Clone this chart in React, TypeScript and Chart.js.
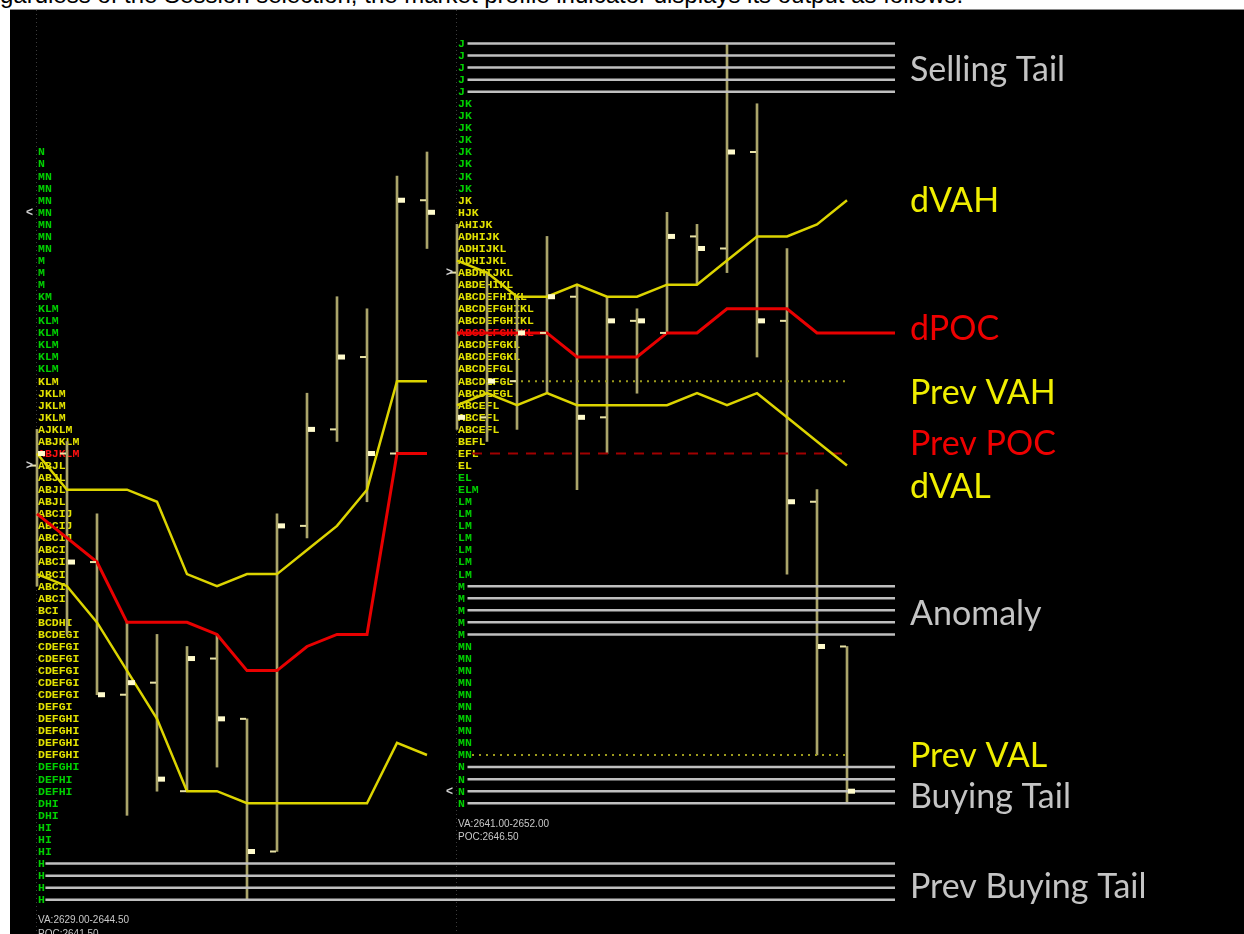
import React, { useEffect, useRef } from 'react';
import { Chart, registerables } from 'chart.js';

Chart.register(...registerables);

// ---------- data ----------
const PERIODS = ['A', 'B', 'C', 'D', 'E', 'F', 'G', 'H', 'I', 'J', 'K', 'L', 'M', 'N'];
const SESSION_START = [0, 14];
const PRICE_STEP = 0.5;

const LEFT_PROFILE = [
  'N', 'N', 'MN', 'MN', 'MN', 'MN', 'MN', 'MN', 'MN', 'M', 'M', 'M', 'KM',
  'KLM', 'KLM', 'KLM', 'KLM', 'KLM', 'KLM', 'KLM', 'JKLM', 'JKLM', 'JKLM',
  'AJKLM', 'ABJKLM', 'ABJKLM', 'ABJL', 'ABJL', 'ABJL', 'ABJL', 'ABCIJ', 'ABCIJ', 'ABCIJ',
  'ABCI', 'ABCI', 'ABCI', 'ABCI', 'ABCI', 'BCI', 'BCDHI', 'BCDEGI',
  'CDEFGI', 'CDEFGI', 'CDEFGI', 'CDEFGI', 'CDEFGI', 'DEFGI',
  'DEFGHI', 'DEFGHI', 'DEFGHI', 'DEFGHI', 'DEFGHI', 'DEFHI', 'DEFHI', 'DHI', 'DHI',
  'HI', 'HI', 'HI', 'H', 'H', 'H', 'H',
];
const LEFT_TOP = 2654.0;
const LEFT_VA = [2629.0, 2644.5];
const LEFT_POC = 2641.5;

const RIGHT_PROFILE = [
  'J', 'J', 'J', 'J', 'J', 'JK', 'JK', 'JK', 'JK', 'JK', 'JK', 'JK', 'JK', 'JK',
  'HJK', 'AHIJK', 'ADHIJK', 'ADHIJKL', 'ADHIJKL', 'ABDHIJKL', 'ABDEHIKL', 'ABCDEFHIKL',
  'ABCDEFGHIKL', 'ABCDEFGHIKL', 'ABCDEFGHIKL', 'ABCDEFGKL', 'ABCDEFGKL',
  'ABCDEFGL', 'ABCDEFGL', 'ABCDEFGL', 'ABCEFL', 'ABCEFL', 'ABCEFL', 'BEFL', 'EFL',
  'EL', 'EL', 'ELM', 'LM', 'LM', 'LM', 'LM', 'LM', 'LM', 'LM',
  'M', 'M', 'M', 'M', 'M', 'MN', 'MN', 'MN', 'MN', 'MN', 'MN', 'MN', 'MN', 'MN', 'MN',
  'N', 'N', 'N', 'N',
];
const RIGHT_TOP = 2658.5;
const RIGHT_VA = [2641.0, 2652.0];
const RIGHT_POC = 2646.5;

const LEFT_HIGH = [2642.5, 2642, 2639, 2634.5, 2634, 2633.5, 2634, 2630.5, 2639, 2644, 2648, 2647.5, 2653, 2654];
const LEFT_LOW = [2636, 2634, 2631.5, 2626.5, 2627.5, 2627.5, 2628.5, 2623, 2625, 2638, 2642, 2639.5, 2641.5, 2650];
const LEFT_OPEN = [2641, 2641.5, 2637, 2631.5, 2632, 2627.5, 2633, 2630.5, 2625, 2638.5, 2642.5, 2645.5, 2641.5, 2652];
const LEFT_CLOSE = [2641.5, 2637, 2631.5, 2632, 2628, 2633, 2630.5, 2625, 2638.5, 2642.5, 2645.5, 2641.5, 2652, 2651.5];

const RIGHT_HIGH = [2651, 2649, 2648, 2650.5, 2648.5, 2648, 2647.5, 2651.5, 2651, 2658.5, 2656, 2650, 2640, 2633.5];
const RIGHT_LOW = [2642.5, 2642, 2642.5, 2644, 2640, 2641.5, 2644, 2646.5, 2648.5, 2649, 2645.5, 2636.5, 2629, 2627];
const RIGHT_OPEN = [2649, 2643, 2644.5, 2646.5, 2648, 2643, 2647, 2646.5, 2650.5, 2650, 2654, 2647, 2639.5, 2633.5];
const RIGHT_CLOSE = [2643, 2644.5, 2646.5, 2648, 2643, 2647, 2647, 2650.5, 2650, 2654, 2647, 2639.5, 2633.5, 2627.5];

const LEFT_DVAH = [2641.5, 2640, 2640, 2640, 2639.5, 2636.5, 2636, 2636.5, 2636.5, 2637.5, 2638.5, 2640, 2644.5, 2644.5];
const LEFT_DPOC = [2639, 2638, 2637, 2634.5, 2634.5, 2634.5, 2634, 2632.5, 2632.5, 2633.5, 2634, 2634, 2641.5, 2641.5];
const LEFT_DVAL = [2636.5, 2636, 2634.5, 2632.5, 2630.5, 2627.5, 2627.5, 2627, 2627, 2627, 2627, 2627, 2629.5, 2629];

const RIGHT_DVAH = [2649.5, 2649, 2648, 2648, 2648.5, 2648, 2648, 2648.5, 2648.5, 2649.5, 2650.5, 2650.5, 2651, 2652];
const RIGHT_DPOC = [2646.5, 2646.5, 2646.5, 2646.5, 2645.5, 2645.5, 2645.5, 2646.5, 2646.5, 2647.5, 2647.5, 2647.5, 2646.5, 2646.5];
const RIGHT_DVAL = [2643.5, 2644, 2643.5, 2644, 2643.5, 2643.5, 2643.5, 2643.5, 2644, 2643.5, 2644, 2643, 2642, 2641];

const SELLING_TAIL = [2658.5, 2658, 2657.5, 2657, 2656.5];
const ANOMALY = [2636, 2635.5, 2635, 2634.5, 2634];
const BUYING_TAIL = [2628.5, 2628, 2627.5, 2627];
const PREV_BUYING_TAIL = [2624.5, 2624, 2623.5, 2623];
const PREV_VAH = 2644.5;
const PREV_POC = 2641.5;
const PREV_VAL = 2629.0;

const LABELS = ['Selling Tail', 'dVAH', 'dPOC', 'Prev VAH', 'Prev POC', 'dVAL', 'Anomaly', 'Prev VAL', 'Buying Tail', 'Prev Buying Tail'];
const LABEL_PRICES = [2657.45, 2652.0, 2646.7, 2644.05, 2641.95, 2640.15, 2634.9, 2629.0, 2627.3, 2623.55];

const TOP_TEXT = 'gardless of the Session selection, the market profile indicator displays its output as follows:';

// ---------- styles / layout ----------
const YELLOW_LINE = '#dcd400';
const RED_LINE = '#e80000';
const GRAY_LINE = '#bfbfbf';
const BAR_COLOR = '#aaa46a';
const TXT_YELLOW = '#e2e200';
const TXT_GREEN = '#00d000';
const TXT_RED = '#ff1010';
const LABEL_COLORS = ['#c4c4c4', '#f0ee00', '#ee0000', '#f0ee00', '#ee0000', '#f0ee00', '#c4c4c4', '#f0ee00', '#c4c4c4', '#c4c4c4'];

const X_MIN = -0.9;
const X_MAX = 40.2333;
const Y_MIN = 2621.58;
const Y_MAX = 2659.887;
const LABEL_X = 29.1;
const REF_END = 28.6;
const LEFT_REF_START = 0.28;
const RIGHT_REF_START = 14.35;
const PREV_START = 14.5;
const PREV_END = 27.0;
const MARKER_OFFSET = -0.25;

const series = (start: number, values: number[]) => values.map((v, i) => ({ x: start + i, y: v }));

const hline = (y: number, x0: number, x1: number, color: string, width: number, dash: number[] = []) => ({
  type: 'line' as const,
  data: [{ x: x0, y }, { x: x1, y }],
  borderColor: color,
  borderWidth: width,
  borderDash: dash,
  pointRadius: 0,
  fill: false,
  order: 2,
});

const pathLine = (data: { x: number; y: number }[], color: string, width: number) => ({
  type: 'line' as const,
  data,
  borderColor: color,
  borderWidth: width,
  pointRadius: 0,
  fill: false,
  tension: 0,
  order: 1,
});

const sessions = [
  { start: SESSION_START[0], profile: LEFT_PROFILE, top: LEFT_TOP, va: LEFT_VA, poc: LEFT_POC, open: LEFT_OPEN, close: LEFT_CLOSE },
  { start: SESSION_START[1], profile: RIGHT_PROFILE, top: RIGHT_TOP, va: RIGHT_VA, poc: RIGHT_POC, open: RIGHT_OPEN, close: RIGHT_CLOSE },
];

const overlayPlugin = {
  id: 'profileOverlay',
  beforeDatasetsDraw(chart: any) {
    const { ctx } = chart;
    const xs = chart.scales.x;
    const ys = chart.scales.y;
    ctx.save();
    // session separators
    ctx.strokeStyle = '#3c3c3c';
    ctx.lineWidth = 1;
    ctx.setLineDash([1, 3]);
    sessions.forEach((s) => {
      const x = Math.round(xs.getPixelForValue(s.start)) - 0.5;
      ctx.beginPath();
      ctx.moveTo(x, 0);
      ctx.lineTo(x, chart.height);
      ctx.stroke();
    });
    ctx.setLineDash([]);
    // profile letters
    ctx.font = 'bold 11.5px "Liberation Mono", "DejaVu Sans Mono", monospace';
    ctx.textBaseline = 'middle';
    ctx.textAlign = 'left';
    sessions.forEach((s) => {
      const x0 = xs.getPixelForValue(s.start) + 1;
      s.profile.forEach((txt, r) => {
        const p = s.top - r * PRICE_STEP;
        ctx.fillStyle = p === s.poc ? TXT_RED : p >= s.va[0] && p <= s.va[1] ? TXT_YELLOW : TXT_GREEN;
        ctx.fillText(txt, x0, ys.getPixelForValue(p) + 0.5);
      });
    });
    ctx.restore();
  },
  afterDatasetsDraw(chart: any) {
    const { ctx } = chart;
    const xs = chart.scales.x;
    const ys = chart.scales.y;
    ctx.save();
    // open / close ticks
    sessions.forEach((s) => {
      PERIODS.forEach((_, i) => {
        const x = xs.getPixelForValue(s.start + i);
        ctx.fillStyle = '#e8e2a6';
        ctx.fillRect(x - 7, ys.getPixelForValue(s.open[i]) - 1, 6, 2);
        ctx.fillStyle = '#fffbcc';
        ctx.fillRect(x + 1, ys.getPixelForValue(s.close[i]) - 2.5, 7, 5);
      });
    });
    // open/close markers
    ctx.font = 'bold 12px "Liberation Sans", sans-serif';
    ctx.textBaseline = 'middle';
    ctx.textAlign = 'center';
    ctx.fillStyle = '#cfcfcf';
    sessions.forEach((s) => {
      const x = xs.getPixelForValue(s.start + MARKER_OFFSET);
      ctx.fillText('>', x, ys.getPixelForValue(s.open[0]));
      ctx.fillText('<', x, ys.getPixelForValue(s.close[s.close.length - 1]));
    });
    // VA / POC text
    ctx.font = '10px "Liberation Sans", Arial, sans-serif';
    ctx.textAlign = 'left';
    ctx.fillStyle = '#c8c8c8';
    sessions.forEach((s) => {
      const low = s.top - (s.profile.length - 1) * PRICE_STEP;
      const x = xs.getPixelForValue(s.start) + 1;
      ctx.fillText(`VA:${s.va[0].toFixed(2)}-${s.va[1].toFixed(2)}`, x, ys.getPixelForValue(low - 0.87));
      ctx.fillText(`POC:${s.poc.toFixed(2)}`, x, ys.getPixelForValue(low - 1.42));
    });
    // right-hand labels
    ctx.font = '34px Lato, "Open Sans", sans-serif';
    ctx.textBaseline = 'alphabetic';
    LABELS.forEach((t, i) => {
      ctx.fillStyle = LABEL_COLORS[i];
      ctx.fillText(t, xs.getPixelForValue(LABEL_X), ys.getPixelForValue(LABEL_PRICES[i]) + 12);
    });
    ctx.restore();
  },
};

export default function App() {
  const canvasRef = useRef<HTMLCanvasElement | null>(null);

  useEffect(() => {
    if (!canvasRef.current) return;
    const datasets: any[] = [];

    // gray tail / anomaly lines
    SELLING_TAIL.forEach((p) => datasets.push(hline(p, RIGHT_REF_START, REF_END, GRAY_LINE, 2.5)));
    ANOMALY.forEach((p) => datasets.push(hline(p, RIGHT_REF_START, REF_END, GRAY_LINE, 2.5)));
    BUYING_TAIL.forEach((p) => datasets.push(hline(p, RIGHT_REF_START, REF_END, GRAY_LINE, 2.5)));
    PREV_BUYING_TAIL.forEach((p) => datasets.push(hline(p, LEFT_REF_START, REF_END, GRAY_LINE, 2.5)));
    // previous session levels
    datasets.push(hline(PREV_VAH, PREV_START, PREV_END, '#9c9a1c', 2, [2, 5]));
    datasets.push(hline(PREV_POC, PREV_START, PREV_END, '#a00000', 2, [10, 8]));
    datasets.push(hline(PREV_VAL, PREV_START, PREV_END, '#9c9a1c', 2, [2, 5]));

    // developing value area / POC
    datasets.push(pathLine(series(SESSION_START[0], LEFT_DVAH), YELLOW_LINE, 2.5));
    datasets.push(pathLine(series(SESSION_START[0], LEFT_DVAL), YELLOW_LINE, 2.5));
    datasets.push(pathLine(series(SESSION_START[0], LEFT_DPOC), RED_LINE, 3));
    datasets.push(pathLine(series(SESSION_START[1], RIGHT_DVAH), YELLOW_LINE, 2.5));
    datasets.push(pathLine(series(SESSION_START[1], RIGHT_DVAL), YELLOW_LINE, 2.5));
    datasets.push(
      pathLine(
        [...series(SESSION_START[1], RIGHT_DPOC), { x: REF_END, y: RIGHT_DPOC[RIGHT_DPOC.length - 1] }],
        RED_LINE,
        3
      )
    );

    // high-low bars
    const barData = [
      ...PERIODS.map((_, i) => ({ x: SESSION_START[0] + i, y: [LEFT_LOW[i], LEFT_HIGH[i]] })),
      ...PERIODS.map((_, i) => ({ x: SESSION_START[1] + i, y: [RIGHT_LOW[i], RIGHT_HIGH[i]] })),
    ];
    datasets.push({
      type: 'bar',
      data: barData,
      backgroundColor: BAR_COLOR,
      borderWidth: 0,
      barThickness: 2,
      grouped: false,
      order: 3,
    });

    const chart = new Chart(canvasRef.current, {
      type: 'line',
      data: { datasets },
      options: {
        animation: false,
        responsive: false,
        maintainAspectRatio: false,
        events: [],
        layout: { padding: 0 },
        plugins: { legend: { display: false }, tooltip: { enabled: false } },
        scales: {
          x: { type: 'linear', min: X_MIN, max: X_MAX, display: false, offset: false },
          y: { type: 'linear', min: Y_MIN, max: Y_MAX, display: false },
        },
      } as any,
      plugins: [overlayPlugin],
    } as any);

    return () => chart.destroy();
  }, []);

  return (
    <div style={{ position: 'absolute', left: 0, top: 0, width: 1244, height: 934, overflow: 'hidden', background: '#ffffff' }}>
      <div
        style={{
          position: 'absolute',
          left: 0,
          top: -17,
          whiteSpace: 'nowrap',
          font: '24px "Liberation Sans", Arial, sans-serif',
          lineHeight: '24px',
          color: '#000',
        }}
      >
        {TOP_TEXT}
      </div>
      <div style={{ position: 'absolute', left: 10, top: 9, width: 1234, height: 1, background: '#8a8a8a' }} />
      <canvas
        ref={canvasRef}
        width={1234}
        height={924}
        style={{ position: 'absolute', left: 10, top: 10, width: 1234, height: 924, background: '#000' }}
      />
    </div>
  );
}
